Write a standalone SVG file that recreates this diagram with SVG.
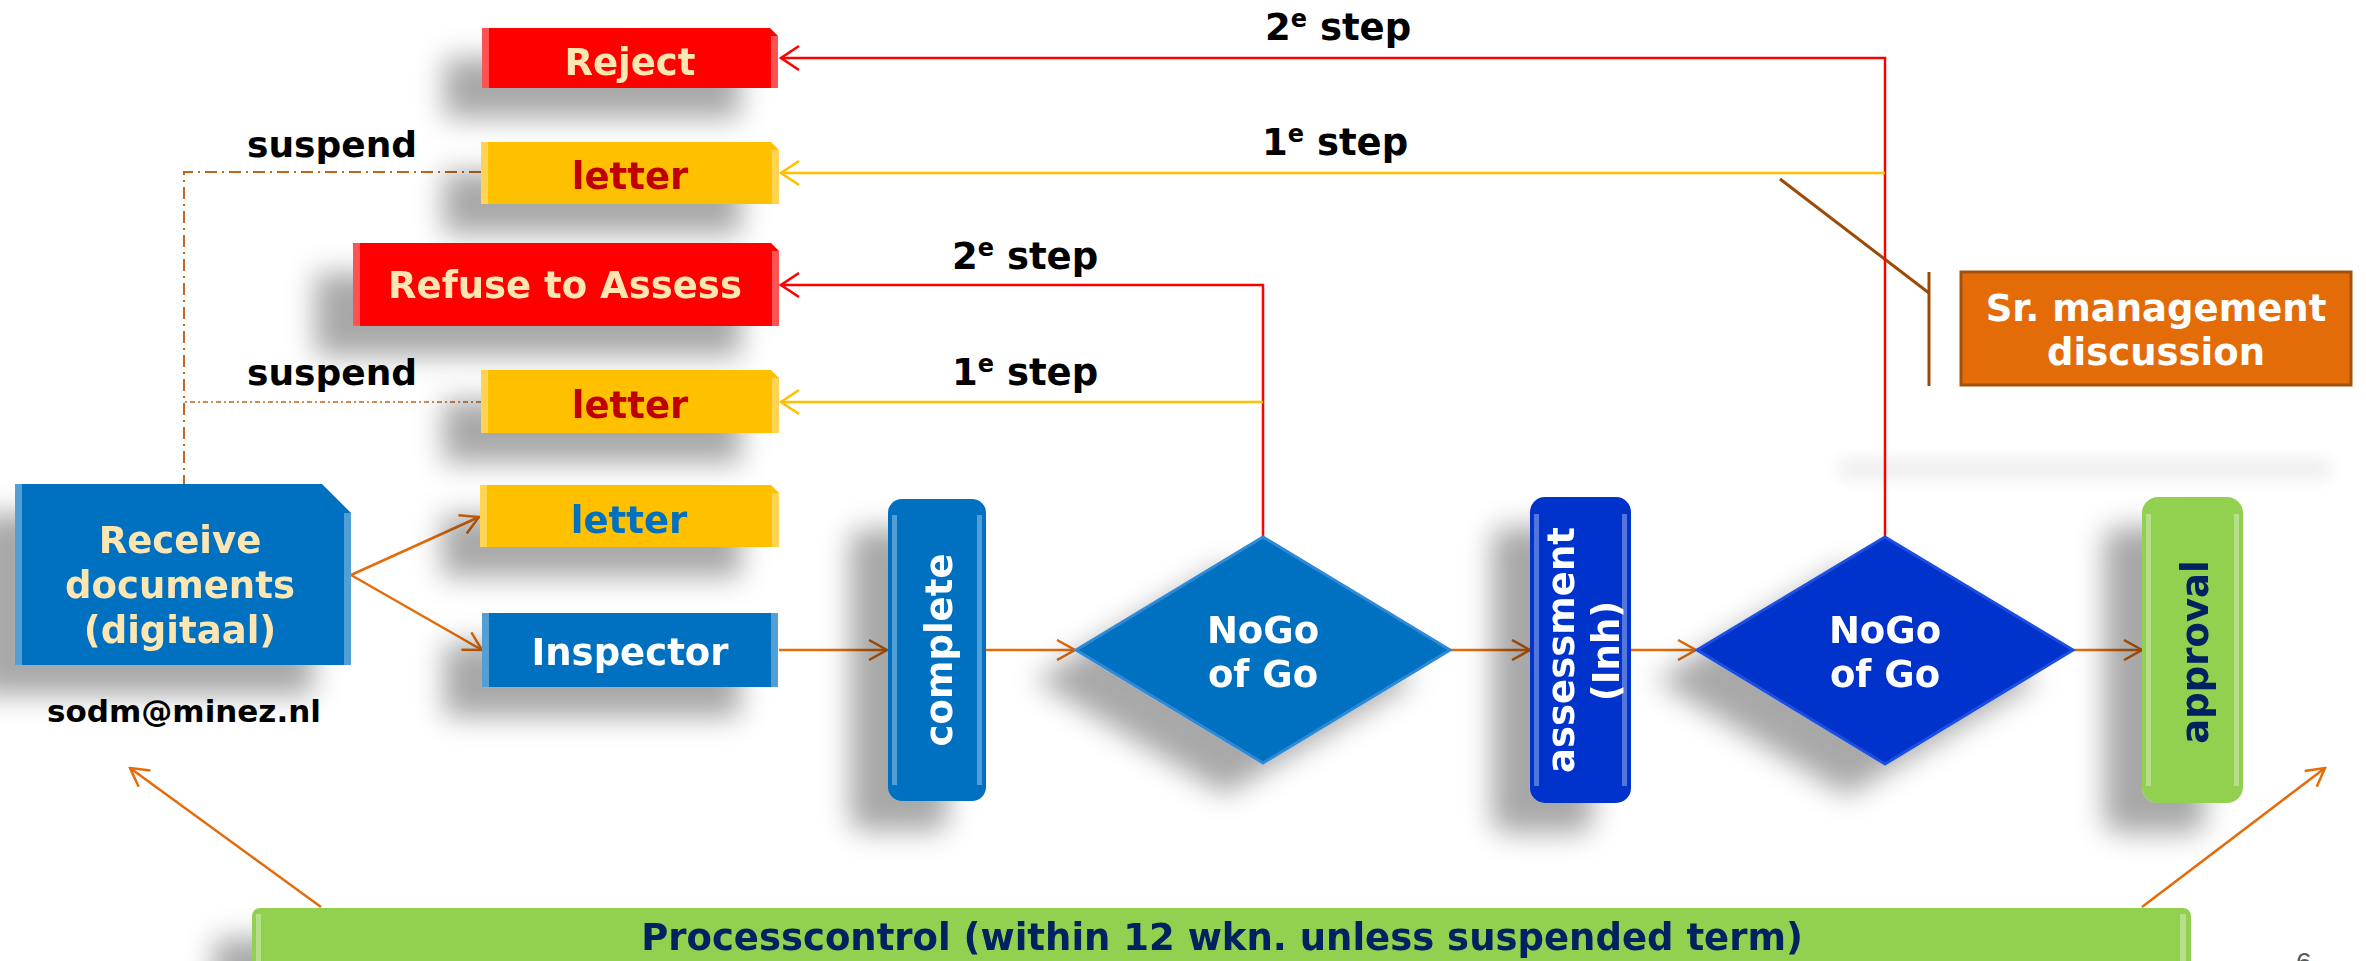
<svg xmlns="http://www.w3.org/2000/svg" width="2366" height="961" viewBox="0 0 2366 961">
<style>
text{font-family:"DejaVu Sans","Verdana",sans-serif;font-weight:bold;font-size:37px}
.c{text-anchor:middle}
.cream{fill:#FDE6B2}
.white{fill:#FFFFFF}
.navy{fill:#002060}
.blk{fill:#000000}
.dred{fill:#C00000}
.blue{fill:#0070C0}
.hl{fill:#FFFFFF;fill-opacity:0.32}
.or{stroke:#E46C0A;stroke-width:2.5;fill:none}
.rd{stroke:#FF0000;stroke-width:2.5;fill:none}
.yl{stroke:#FFC000;stroke-width:2.5;fill:none}
.br{stroke:#9C4A06;stroke-width:3;fill:none}
.dd1{stroke:#C0651C;stroke-width:2;fill:none;stroke-dasharray:12 5 2 5}
.dd2{stroke:#C0651C;stroke-width:1.6;fill:none;stroke-dasharray:5 3 2 3}
</style>
<defs>
<filter id="sh" filterUnits="userSpaceOnUse" x="-200" y="-200" width="2766" height="1361">
<feGaussianBlur in="SourceAlpha" stdDeviation="14"/>
<feOffset dx="-38" dy="30" result="b"/>
<feFlood flood-color="#000" flood-opacity="0.34"/>
<feComposite in2="b" operator="in"/>
<feMerge><feMergeNode/><feMergeNode in="SourceGraphic"/></feMerge>
</filter>
<filter id="blur" filterUnits="userSpaceOnUse" x="1700" y="400" width="700" height="140">
<feGaussianBlur stdDeviation="9"/>
</filter>
<marker id="aO" viewBox="0 0 22 22" refX="20" refY="11" markerWidth="22" markerHeight="22" markerUnits="userSpaceOnUse" orient="auto">
<path d="M2,1 L20,11 L2,21" fill="none" stroke="#E46C0A" stroke-width="2.5"/>
</marker>
<marker id="aR" viewBox="0 0 22 26" refX="20" refY="13" markerWidth="22" markerHeight="26" markerUnits="userSpaceOnUse" orient="auto">
<path d="M2,1 L20,13 L2,25" fill="none" stroke="#FF0000" stroke-width="2.5"/>
</marker>
<marker id="aY" viewBox="0 0 22 26" refX="20" refY="13" markerWidth="22" markerHeight="26" markerUnits="userSpaceOnUse" orient="auto">
<path d="M2,1 L20,13 L2,25" fill="none" stroke="#FFC000" stroke-width="2.5"/>
</marker>
</defs>
<rect width="2366" height="961" fill="#FFFFFF"/>

<!-- faint shadow near Sr. management -->
<rect x="1840" y="460" width="490" height="18" fill="#000" opacity="0.08" filter="url(#blur)"/>

<g id="connectors">
<path class="br" d="M1780,179 L1929,293"/>
<path class="br" d="M1929,272 V386"/>
<path class="dd1" d="M481,172 H184 V484"/>
<path class="dd2" d="M481,402 H184"/>
<path class="rd" d="M1885,537 V58 H781" marker-end="url(#aR)"/>
<path class="yl" d="M1885,173 H781" marker-end="url(#aY)"/>
<path class="rd" d="M1263,537 V285 H781" marker-end="url(#aR)"/>
<path class="yl" d="M1263,402 H781" marker-end="url(#aY)"/>
<path class="or" d="M351,575 L479,517" marker-end="url(#aO)"/>
<path class="or" d="M351,575 L482,650" marker-end="url(#aO)"/>
<path class="or" d="M779,650 H887" marker-end="url(#aO)"/>
<path class="or" d="M986,650 H1075" marker-end="url(#aO)"/>
<path class="or" d="M1450,650 H1530" marker-end="url(#aO)"/>
<path class="or" d="M1631,650 H1696" marker-end="url(#aO)"/>
<path class="or" d="M2073,650 H2142" marker-end="url(#aO)"/>
<path class="or" d="M321,907 L130,768" marker-end="url(#aO)"/>
<path class="or" d="M2142,907 L2325,768" marker-end="url(#aO)"/>
</g>

<g id="reject" filter="url(#sh)">
<path d="M482,28 H770 L778,36 V88 H482 Z" fill="#FF0000"/>
<rect class="hl" x="482" y="28" width="7" height="60"/><rect class="hl" x="771" y="36" width="7" height="52"/>
<text class="c cream" x="630" y="75">Reject</text>
</g>

<g id="letter1" filter="url(#sh)">
<path d="M481,142 H771 L779,150 V204 H481 Z" fill="#FFC000"/>
<rect class="hl" x="481" y="142" width="7" height="62"/><rect class="hl" x="772" y="150" width="7" height="54"/>
<text class="c dred" x="630" y="189">letter</text>
</g>

<g id="refuse" filter="url(#sh)">
<path d="M353,243 H771 L779,251 V326 H353 Z" fill="#FF0000"/>
<rect class="hl" x="353" y="243" width="7" height="83"/><rect class="hl" x="772" y="251" width="7" height="75"/>
<text class="c cream" x="565" y="298">Refuse to Assess</text>
</g>

<g id="letter2" filter="url(#sh)">
<path d="M481,370 H771 L779,378 V433 H481 Z" fill="#FFC000"/>
<rect class="hl" x="481" y="370" width="7" height="63"/><rect class="hl" x="772" y="378" width="7" height="55"/>
<text class="c dred" x="630" y="418">letter</text>
</g>

<g id="letter3" filter="url(#sh)">
<path d="M480,485 H771 L779,493 V547 H480 Z" fill="#FFC000"/>
<rect class="hl" x="480" y="485" width="7" height="62"/><rect class="hl" x="772" y="493" width="7" height="54"/>
<text class="c blue" x="629" y="533">letter</text>
</g>

<g id="inspector" filter="url(#sh)">
<rect x="482" y="613" width="296" height="74" fill="#0070C0"/>
<rect class="hl" x="482" y="613" width="7" height="74"/><rect class="hl" x="771" y="613" width="7" height="74"/>
<text class="c white" x="630" y="665">Inspector</text>
</g>

<g id="receive" filter="url(#sh)">
<path d="M15,484 H322 L351,513 V665 H15 Z" fill="#0070C0"/>
<rect class="hl" x="15" y="484" width="7" height="181"/><rect class="hl" x="344" y="513" width="7" height="152"/>
<text class="c cream" x="180" y="553">Receive</text>
<text class="c cream" x="180" y="598">documents</text>
<text class="c cream" x="180" y="643">(digitaal)</text>
</g>

<g id="email">
<text class="c blk" x="184" y="722" style="font-size:31px">sodm@minez.nl</text>
</g>

<g id="complete" filter="url(#sh)">
<rect x="888" y="499" width="98" height="302" rx="14" fill="#0070C0"/>
<rect class="hl" x="892" y="515" width="5" height="270"/><rect class="hl" x="977" y="515" width="5" height="270"/>
<text class="c white" transform="translate(952,650) rotate(-90)">complete</text>
</g>

<g id="nogo1" filter="url(#sh)">
<polygon points="1263,537 1450,650 1263,763 1076,650" fill="#0070C0" stroke="#2F8AD6" stroke-width="3"/>
<text class="c white" x="1263" y="643">NoGo</text>
<text class="c white" x="1263" y="687">of Go</text>
</g>

<g id="assessment" filter="url(#sh)">
<rect x="1530" y="497" width="101" height="306" rx="15" fill="#0033CC"/>
<rect class="hl" x="1534" y="514" width="5" height="272"/><rect class="hl" x="1622" y="514" width="5" height="272"/>
<text class="c white" transform="translate(1574,650) rotate(-90)">assessment</text>
<text class="c white" transform="translate(1619,651) rotate(-90)">(Inh)</text>
</g>

<g id="nogo2" filter="url(#sh)">
<polygon points="1885,537 2073,650 1885,764 1697,650" fill="#0033CC" stroke="#1F4FE0" stroke-width="3"/>
<text class="c white" x="1885" y="643">NoGo</text>
<text class="c white" x="1885" y="687">of Go</text>
</g>

<g id="approval" filter="url(#sh)">
<rect x="2142" y="497" width="101" height="306" rx="16" fill="#92D050"/>
<rect class="hl" x="2146" y="514" width="5" height="272"/><rect class="hl" x="2234" y="514" width="5" height="272"/>
<text class="c navy" transform="translate(2208,652) rotate(-90)">approval</text>
</g>

<g id="srmgmt">
<rect x="1961" y="272" width="390" height="113" fill="#E36C09" stroke="#A4500A" stroke-width="3"/>
<text class="c white" x="2156" y="321">Sr. management</text>
<text class="c white" x="2156" y="365">discussion</text>
</g>

<g id="processcontrol" filter="url(#sh)">
<rect x="252" y="908" width="1939" height="70" rx="8" fill="#92D050"/>
<rect class="hl" x="2180" y="914" width="6" height="60"/><rect class="hl" x="256" y="914" width="5" height="60"/>
<text class="c navy" x="1222" y="950">Processcontrol (within 12 wkn. unless suspended term)</text>
</g>

<g id="labels">
<text class="blk" x="1265" y="40">2<tspan dy="-13" style="font-size:24px">e</tspan><tspan dy="13"> step</tspan></text>
<text class="blk" x="1262" y="155">1<tspan dy="-13" style="font-size:24px">e</tspan><tspan dy="13"> step</tspan></text>
<text class="blk" x="952" y="269">2<tspan dy="-13" style="font-size:24px">e</tspan><tspan dy="13"> step</tspan></text>
<text class="blk" x="952" y="385">1<tspan dy="-13" style="font-size:24px">e</tspan><tspan dy="13"> step</tspan></text>
<text class="blk" x="247" y="157" style="font-size:36px">suspend</text>
<text class="blk" x="247" y="385" style="font-size:36px">suspend</text>
</g>

<text x="2296" y="972" style="font-family:'Liberation Sans',sans-serif;font-weight:normal;font-size:28px;fill:#595959">6</text>
</svg>
